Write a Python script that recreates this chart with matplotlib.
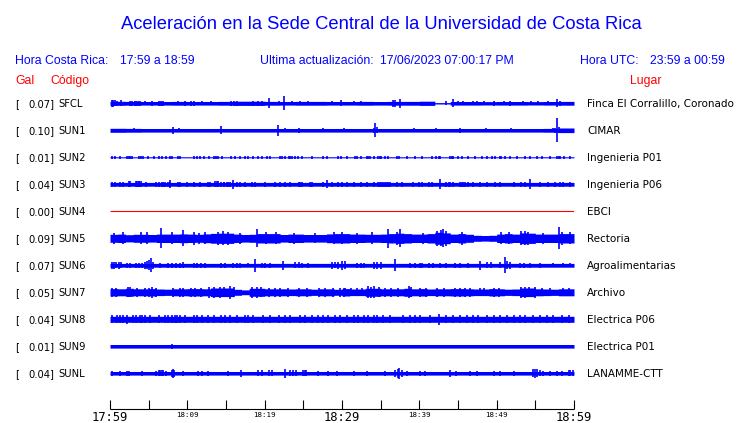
import numpy as np
import matplotlib
matplotlib.use("Agg")
import matplotlib.pyplot as plt

# ---------------- data ----------------
codes = ["SFCL", "SUN1", "SUN2", "SUN3", "SUN4", "SUN5", "SUN6", "SUN7", "SUN8", "SUN9", "SUNL"]
gal = ["0.07", "0.10", "0.01", "0.04", "0.00", "0.09", "0.07", "0.05", "0.04", "0.01", "0.04"]
places = ["Finca El Corralillo, Coronado", "CIMAR", "Ingenieria P01", "Ingenieria P06", "EBCI",
          "Rectoria", "Agroalimentarias", "Archivo", "Electrica P06", "Electrica P01", "LANAMME-CTT"]

tick_minutes = [0, 5, 10, 15, 20, 25, 30, 35, 40, 45, 50, 55, 60]
tick_labels = ["17:59", "18:09", "18:19", "18:29", "18:39", "18:49", "18:59"]

# solid core half-width of each trace (evenly spread over the 60 minutes)
core_sfcl = [2.0, 1.9, 1.8, 1.8, 1.9, 1.8, 1.8, 1.9, 2.1, 2.1, 1.9, 1.8, 1.9, 1.9, 1.8,
             1.8, 1.9, 1.8, 1.9, 1.9, 2.1, 0.7, 1.8, 1.8, 1.7, 1.8, 1.8, 1.7, 1.8, 1.9]
core_sun1 = [2.0, 1.9, 1.8, 1.8, 1.8, 1.8, 1.8, 1.8, 1.8, 1.8, 1.8, 1.8, 1.8, 1.8, 1.8,
             1.8, 1.8, 1.8, 1.8, 1.8, 1.8, 1.8, 1.8, 1.8, 1.8, 1.8, 1.8, 1.8, 1.9, 2.3]
core_sun2 = [0.55]
core_sun3 = [1.9]
core_sun4 = [0.0]
core_sun5 = [4.0, 4.2, 3.6, 4.0, 4.0, 3.8, 4.2, 4.2, 4.2, 4.4, 4.2, 4.0, 4.4, 4.9, 5.1,
             5.1, 4.2, 3.8, 4.0, 4.7, 4.7, 4.7, 3.8, 4.2, 4.2, 3.8, 3.8, 3.8, 4.4, 4.7,
             4.7, 4.2, 4.2, 4.0, 4.0, 4.2, 4.7, 5.1, 4.7, 4.2, 4.2, 4.7, 6.0, 5.4, 4.2,
             4.7, 4.0, 3.0, 2.8, 3.0, 4.2, 4.7, 4.2, 5.4, 5.1, 4.2, 4.2, 4.2, 4.7, 4.7]
core_sun6 = [1.9]
core_sun7 = [3.7, 3.5, 4.0, 3.5, 3.5, 3.7, 3.3, 3.1, 3.5, 3.5, 3.7, 3.7, 3.5, 4.3, 4.3,
             4.3, 3.0, 2.4, 4.0, 4.0, 3.5, 3.5, 3.5, 3.3, 3.5, 3.5, 3.1, 3.5, 3.5, 3.0,
             3.7, 3.3, 3.3, 4.0, 4.0, 3.5, 3.5, 3.5, 4.0, 3.5, 3.7, 3.3, 3.5, 3.5, 3.7,
             3.7, 3.5, 3.3, 3.3, 3.7, 3.5, 3.1, 3.3, 4.3, 4.3, 3.5, 3.3, 3.1, 3.5, 3.5]
core_sun8 = [3.0]
core_sun9 = [1.8]
core_sunl = [1.8]

# bursts / spikes: (minute after 17:59, half amplitude)
spk_sfcl = [(0.2, 3.3), (0.4, 3.3), (0.6, 3.0), (0.9, 2.5), (1.4, 3.0), (2.6, 2.5), (2.8, 2.5),
            (3.2, 2.5), (3.4, 2.5), (3.6, 2.5), (3.9, 2.5), (4.5, 2.0), (5.4, 2.5), (6.3, 2.5),
            (6.6, 2.5), (6.9, 2.5), (8.8, 2.0), (9.7, 2.5), (10.5, 2.5), (10.9, 2.5), (11.9, 2.0),
            (13.1, 1.8), (15.7, 2.5), (16.0, 2.5), (16.4, 2.5), (18.5, 2.5), (19.2, 2.5),
            (19.6, 2.5), (20.6, 5.0), (21.8, 2.0), (22.5, 7.0), (23.5, 1.8), (24.6, 2.0),
            (25.6, 1.8), (28.7, 2.0), (29.9, 3.0), (31.5, 2.0), (32.5, 1.8), (36.6, 3.5),
            (36.9, 3.5), (37.5, 4.5), (43.5, 1.8), (44.4, 4.0), (45.0, 2.0), (45.7, 2.0),
            (47.0, 2.0), (47.4, 2.0), (48.3, 1.8), (49.6, 2.5), (50.9, 2.0), (51.7, 2.5),
            (53.4, 2.0), (54.5, 2.0), (55.4, 2.0), (56.7, 1.8), (57.8, 4.0), (58.2, 2.5)]
spk_sun1 = [(3.1, 2.0), (8.2, 3.5), (8.9, 1.8), (14.4, 4.0), (21.7, 5.5), (22.6, 2.0), (24.4, 2.5),
            (27.6, 1.8), (30.2, 2.0), (34.1, 2.5), (34.3, 7.0), (34.5, 3.0), (39.3, 2.0),
            (42.2, 1.8), (45.2, 2.5), (48.6, 2.0), (51.9, 1.8), (57.3, 2.0), (57.6, 2.5),
            (57.8, 12.0), (58.0, 3.0)]
spk_sun2 = [(0.2, 1.3), (0.6, 1.3), (1.3, 1.3), (2.2, 1.5), (2.4, 1.5), (2.6, 1.5), (2.8, 1.3),
            (3.7, 1.3), (4.0, 1.3), (4.3, 1.3), (4.9, 1.3), (5.7, 1.5), (6.3, 1.3), (6.7, 1.3),
            (7.2, 1.3), (7.8, 1.5), (8.0, 1.3), (8.8, 1.3), (9.1, 1.3), (10.8, 1.3), (11.3, 1.5),
            (11.6, 1.5), (12.2, 1.3), (12.8, 1.3), (13.4, 1.5), (13.7, 1.5), (14.0, 1.3),
            (14.5, 1.3), (15.7, 1.3), (16.1, 1.3), (16.8, 1.3), (17.4, 1.3), (17.9, 1.3),
            (18.5, 1.5), (19.2, 1.3), (19.6, 1.3), (20.3, 1.3), (20.7, 1.3), (22.0, 1.5),
            (22.3, 1.5), (22.6, 1.5), (23.1, 1.5), (23.3, 1.5), (23.5, 1.3), (23.9, 1.3),
            (24.3, 1.3), (24.8, 1.3), (26.1, 1.3), (27.6, 1.3), (28.0, 1.3), (29.5, 1.3),
            (29.9, 1.3), (30.6, 1.3), (31.7, 1.5), (31.9, 1.3), (32.5, 1.3), (33.2, 1.3),
            (33.4, 1.3), (33.6, 1.3), (34.1, 1.3), (34.7, 1.3), (34.9, 1.3), (35.1, 1.3),
            (35.6, 1.3), (36.0, 1.3), (37.1, 1.3), (37.4, 1.3), (38.4, 1.3), (39.4, 1.3),
            (40.3, 1.3), (41.6, 1.3), (42.2, 1.3), (42.5, 1.5), (42.7, 1.3), (44.0, 1.3),
            (44.2, 1.3), (44.4, 1.3), (45.0, 1.3), (45.5, 1.3), (46.3, 1.3), (47.2, 1.3),
            (48.1, 1.3), (48.7, 1.3), (49.4, 1.3), (49.8, 1.3), (50.4, 1.3), (50.6, 1.3),
            (51.1, 1.3), (51.7, 1.3), (52.6, 1.3), (53.7, 1.3), (54.3, 1.3), (55.2, 1.3),
            (55.8, 1.3), (56.9, 1.3), (57.8, 1.5), (58.0, 1.3), (58.2, 1.3), (58.7, 1.3),
            (59.5, 1.3)]
spk_sun3 = [(0.2, 2.7), (0.6, 2.7), (1.3, 2.7), (1.7, 2.7), (2.4, 3.0), (2.6, 3.0), (3.3, 3.0),
            (3.5, 3.0), (3.7, 3.0), (3.8, 3.0), (4.0, 3.0), (4.7, 2.7), (6.0, 2.7), (6.3, 2.7),
            (6.7, 2.7), (6.9, 2.7), (7.1, 2.7), (7.5, 2.7), (7.7, 2.7), (7.8, 4.0), (8.8, 2.7),
            (9.1, 2.7), (9.9, 2.7), (10.8, 2.7), (11.6, 2.7), (12.7, 2.7), (12.9, 2.7),
            (13.6, 3.0), (13.8, 3.0), (14.0, 3.0), (14.4, 2.7), (14.7, 2.7), (14.8, 2.7),
            (15.1, 2.7), (15.3, 2.7), (15.5, 2.7), (15.9, 4.5), (16.4, 2.7), (16.8, 2.7),
            (17.5, 2.7), (18.3, 2.7), (18.8, 2.7), (20.0, 2.7), (21.3, 2.7), (22.0, 2.7),
            (22.6, 2.7), (23.3, 2.7), (24.4, 2.7), (24.6, 2.7), (24.8, 2.7), (25.9, 2.7),
            (26.1, 2.7), (27.6, 2.7), (28.1, 4.0), (28.7, 2.7), (29.5, 2.7), (30.0, 2.7),
            (30.6, 2.7), (31.5, 2.7), (32.5, 2.7), (33.2, 2.7), (34.1, 2.7), (34.7, 2.7),
            (34.9, 2.7), (35.1, 2.7), (35.3, 2.7), (35.6, 2.7), (35.8, 2.7), (36.0, 2.7),
            (36.2, 2.7), (37.1, 2.7), (37.7, 2.7), (39.2, 2.7), (39.9, 2.7), (40.3, 2.7),
            (41.2, 2.7), (41.6, 2.7), (42.7, 5.0), (43.5, 2.7), (43.8, 2.7), (44.0, 2.7),
            (44.4, 2.7), (45.3, 2.7), (45.5, 2.7), (45.7, 2.7), (45.9, 2.7), (46.3, 2.7),
            (47.0, 2.7), (47.8, 2.7), (48.7, 2.7), (49.8, 2.7), (50.4, 2.7), (52.2, 2.5),
            (53.2, 2.7), (53.7, 2.7), (54.3, 5.0), (55.6, 2.7), (56.7, 2.7), (57.5, 2.7),
            (58.2, 2.7), (58.6, 2.7), (59.5, 2.7)]
spk_sun4 = []
spk_sun5 = [(0.5, 5.5), (1.7, 6.0), (4.0, 6.0), (4.8, 6.0), (6.6, 10.0), (8.0, 6.0), (9.5, 8.0),
            (10.8, 6.5), (11.5, 5.5), (12.3, 6.0), (14.0, 6.5), (14.6, 7.0), (15.2, 6.5),
            (16.8, 5.5), (19.0, 9.0), (20.2, 6.0), (21.5, 6.0), (23.8, 5.5), (26.5, 5.0),
            (29.0, 6.0), (30.0, 6.0), (32.0, 5.5), (33.9, 6.0), (35.9, 9.5), (37.1, 6.5),
            (37.5, 9.0), (40.5, 5.5), (42.3, 7.5), (42.8, 8.0), (43.1, 9.0), (43.5, 7.5),
            (45.5, 6.5), (50.5, 6.0), (51.6, 6.0), (53.2, 7.0), (53.6, 7.0), (54.0, 6.5),
            (56.0, 5.5), (58.1, 11.0), (58.4, 6.5), (59.5, 6.0)]
spk_sun6 = [(0.2, 3.5), (0.5, 3.5), (0.8, 3.0), (1.1, 3.5), (1.4, 3.0), (2.2, 2.5), (2.6, 2.5),
            (3.3, 2.5), (3.7, 2.5), (4.1, 2.5), (4.5, 3.5), (4.8, 4.0), (5.0, 5.0), (5.3, 7.0),
            (5.5, 3.5), (6.5, 2.5), (7.5, 2.5), (8.0, 2.5), (8.5, 2.5), (9.1, 2.5), (9.5, 3.0),
            (10.8, 2.5), (11.3, 2.5), (11.8, 2.5), (12.3, 2.5), (14.4, 2.5), (14.9, 2.5),
            (15.9, 2.5), (16.4, 2.5), (16.8, 2.5), (17.9, 2.0), (18.8, 6.5), (19.6, 2.5),
            (20.1, 2.5), (20.7, 2.5), (22.4, 4.5), (23.9, 3.0), (24.4, 3.0), (24.8, 2.5),
            (25.6, 2.5), (28.7, 3.5), (29.1, 3.0), (29.5, 3.5), (30.0, 4.5), (30.4, 4.0),
            (31.9, 2.5), (32.4, 2.5), (32.8, 2.5), (34.1, 3.5), (34.5, 3.5), (35.1, 3.5),
            (36.8, 6.0), (38.8, 2.5), (39.4, 2.5), (40.1, 2.5), (40.3, 2.5), (41.2, 2.5),
            (41.8, 2.5), (42.7, 2.5), (43.5, 2.5), (44.6, 2.5), (45.3, 2.5), (46.3, 2.5),
            (47.8, 4.5), (48.7, 3.0), (49.3, 3.0), (50.4, 3.0), (51.1, 8.0), (51.4, 4.0),
            (51.7, 3.5), (53.0, 2.5), (53.5, 2.5), (54.3, 2.5), (55.6, 2.5), (57.3, 2.0),
            (58.6, 2.0), (59.5, 2.0)]
spk_sun7 = [(0.3, 4.5), (0.8, 4.5), (2.3, 5.0), (2.6, 5.0), (3.5, 4.5), (4.5, 4.5), (5.0, 4.5),
            (5.4, 5.5), (6.0, 4.5), (8.2, 4.5), (9.0, 4.5), (9.5, 4.5), (10.5, 4.5), (11.0, 4.5),
            (11.8, 4.5), (12.8, 5.5), (13.5, 5.5), (14.2, 5.5), (14.8, 5.0), (15.5, 6.5),
            (16.0, 5.0), (18.4, 5.5), (19.0, 5.5), (19.5, 5.0), (20.5, 4.5), (21.3, 4.5),
            (22.0, 4.5), (23.0, 4.5), (24.5, 4.5), (25.5, 4.5), (27.0, 4.5), (27.8, 4.5),
            (28.8, 4.5), (29.8, 4.5), (30.2, 4.5), (30.4, 4.0), (31.2, 4.0), (32.0, 4.0),
            (32.6, 4.0), (33.3, 6.0), (33.8, 5.5), (34.2, 6.0), (34.8, 5.0), (35.6, 4.5),
            (36.4, 4.5), (37.2, 4.5), (38.7, 6.0), (38.9, 5.0), (40.1, 4.5), (40.8, 4.5),
            (42.3, 4.5), (43.2, 4.5), (44.6, 4.5), (45.3, 4.5), (45.9, 4.5), (46.6, 4.5),
            (47.8, 4.0), (48.4, 4.0), (49.6, 4.5), (50.3, 4.5), (53.1, 5.5), (53.6, 5.5),
            (54.2, 5.0), (54.9, 5.5), (55.8, 4.0), (56.9, 4.0), (58.6, 4.0), (59.4, 4.0)]
spk_sun8 = [(0.2, 3.8), (0.9, 3.8), (1.3, 3.8), (1.7, 3.8), (2.2, 4.5), (3.0, 3.8), (3.4, 3.8),
            (3.9, 3.8), (4.1, 3.8), (4.5, 3.8), (5.2, 3.8), (6.3, 3.8), (7.1, 3.8), (7.5, 3.8),
            (8.0, 4.2), (8.4, 4.2), (8.6, 4.2), (9.1, 3.8), (9.7, 3.8), (10.8, 3.8), (11.2, 3.8),
            (11.9, 3.8), (12.7, 3.8), (13.4, 3.8), (14.4, 3.8), (14.9, 3.8), (15.5, 3.8),
            (16.4, 3.8), (17.5, 3.8), (17.9, 3.8), (18.5, 3.8), (19.8, 3.8), (20.7, 3.8),
            (21.8, 3.8), (22.6, 3.8), (23.3, 3.8), (24.6, 3.8), (25.2, 3.8), (26.1, 3.8),
            (26.9, 3.8), (27.6, 3.8), (28.2, 3.8), (29.1, 3.8), (29.7, 3.8), (30.6, 3.8),
            (31.5, 3.8), (32.1, 3.8), (32.8, 3.8), (33.4, 3.8), (34.1, 3.8), (34.5, 3.8),
            (35.3, 3.8), (36.2, 3.8), (37.9, 4.2), (38.8, 3.8), (39.4, 3.8), (40.1, 3.8),
            (41.4, 3.8), (42.5, 5.5), (43.5, 3.8), (44.4, 3.8), (45.3, 3.8), (46.1, 3.8),
            (47.0, 3.8), (47.6, 3.8), (48.7, 3.8), (49.6, 3.8), (50.4, 3.8), (51.3, 3.8),
            (52.2, 3.8), (53.0, 3.8), (53.7, 3.8), (54.7, 3.8), (55.6, 3.8), (56.5, 3.8),
            (57.3, 3.8), (58.4, 3.8), (59.3, 3.8)]
spk_sun9 = [(8.0, 2.3)]
spk_sunl = [(0.2, 2.5), (1.3, 2.5), (2.2, 2.5), (2.4, 2.5), (4.1, 2.5), (6.0, 2.5), (6.3, 3.0),
            (6.5, 3.0), (6.7, 3.0), (6.9, 3.0), (7.3, 2.5), (8.0, 3.5), (8.1, 4.5), (8.3, 3.5),
            (9.5, 2.5), (11.4, 2.5), (11.9, 2.5), (12.7, 2.5), (15.2, 2.5), (17.0, 3.5),
            (19.2, 3.0), (19.6, 3.0), (20.5, 3.0), (20.9, 3.0), (22.6, 4.5), (23.3, 3.0),
            (23.7, 3.0), (24.1, 3.0), (25.0, 3.0), (25.2, 3.0), (25.4, 3.0), (26.9, 2.5),
            (28.2, 2.5), (29.4, 2.5), (31.5, 2.5), (33.2, 2.5), (35.6, 2.5), (36.9, 3.5),
            (37.2, 4.5), (37.4, 5.5), (37.7, 3.5), (38.4, 2.5), (40.1, 2.5), (40.7, 2.5),
            (44.0, 3.5), (44.8, 2.5), (46.5, 2.5), (47.4, 2.5), (49.6, 2.5), (50.4, 2.5),
            (52.2, 2.5), (54.7, 4.0), (55.0, 4.5), (55.2, 4.0), (55.6, 3.0), (56.0, 2.5),
            (56.9, 2.5), (57.8, 2.5), (58.4, 2.5), (59.3, 3.0), (59.5, 3.0), (59.9, 3.0)]

cores = [core_sfcl, core_sun1, core_sun2, core_sun3, core_sun4, core_sun5,
         core_sun6, core_sun7, core_sun8, core_sun9, core_sunl]
spikes = [spk_sfcl, spk_sun1, spk_sun2, spk_sun3, spk_sun4, spk_sun5,
          spk_sun6, spk_sun7, spk_sun8, spk_sun9, spk_sunl]

# ---------------- layout ----------------
W, H = 740, 423
fig = plt.figure(figsize=(W / 100, H / 100), dpi=100)
fig.patch.set_facecolor("white")

bg = fig.add_axes([0, 0, 1, 1])
bg.set_xlim(0, W)
bg.set_ylim(H, 0)
bg.axis("off")

X0, X1 = 110, 574
ax = fig.add_axes([X0 / W, 0, (X1 - X0) / W, 1])
ax.set_xlim(0, 60)
ax.set_ylim(H, 0)
ax.axis("off")

BLUE = "#0000ff"
RED = "#ff0000"
row0, dy = 103.3, 27.0

sans = "Liberation Sans"
for_lbl = "DejaVu Sans"

# title + header
bg.text(381, 29.3, "Aceleración en la Sede Central de la Universidad de Costa Rica",
        ha="center", va="baseline", color=BLUE, fontsize=13.2, family=sans)
hdr = dict(va="baseline", color=BLUE, fontsize=8.8, family=sans)
bg.text(15, 64.5, "Hora Costa Rica:", **hdr)
bg.text(120, 64.5, "17:59 a 18:59", **hdr)
bg.text(260, 64.5, "Ultima actualización:", **hdr)
bg.text(380, 64.5, "17/06/2023 07:00:17 PM", **hdr)
bg.text(580, 64.5, "Hora UTC:", **hdr)
bg.text(650, 64.5, "23:59 a 00:59", **hdr)
red = dict(va="baseline", color=RED, fontsize=8.8, family=sans)
bg.text(15, 84, "Gal", **red)
bg.text(50, 84, "Código", **red)
bg.text(630, 84, "Lugar", **red)

for i, code in enumerate(codes):
    y = row0 + i * dy
    lbl = dict(va="baseline", color="black", fontsize=7.2, family=for_lbl)
    bg.text(15, y + 3.5, "[", **lbl)
    bg.text(28, y + 3.5, gal[i] + "]", **lbl)
    bg.text(58.5, y + 3.5, code, **lbl)
    bg.text(587, y + 3.6, places[i], va="baseline", color="black", fontsize=7.5, family=for_lbl)

    core = np.asarray(cores[i], dtype=float)
    if core.max() <= 0 and not spikes[i]:
        ax.hlines(y, 0, 60, color=RED, lw=0.8)
        continue
    edges = np.linspace(0, 60, len(core) + 1)
    vals = np.append(core, core[-1])
    poly = ax.fill_between(edges, y - vals, y + vals, step="post", color=BLUE, lw=0,
                           clip_on=False)
    poly.set_snap(False)
    if spikes[i]:
        t = np.array([s[0] for s in spikes[i]])
        a = np.array([s[1] for s in spikes[i]])
        ax.vlines(t, y - a, y + a, color=BLUE, lw=1.2, clip_on=False)

# time axis
ax.hlines(409, 0, 60, color="black", lw=0.8, clip_on=False)
ax.vlines(tick_minutes, 400.5, 409, color="black", lw=0.8, clip_on=False)
for k, lab in enumerate(tick_labels):
    big = k % 3 == 0
    ax.text(tick_minutes[2 * k], 420.8 if big else 416.8, lab, ha="center", va="baseline",
            family="DejaVu Sans Mono", fontsize=8.7 if big else 5.4, color="black",
            clip_on=False)

fig.savefig("out.png", dpi=100, facecolor="white")
